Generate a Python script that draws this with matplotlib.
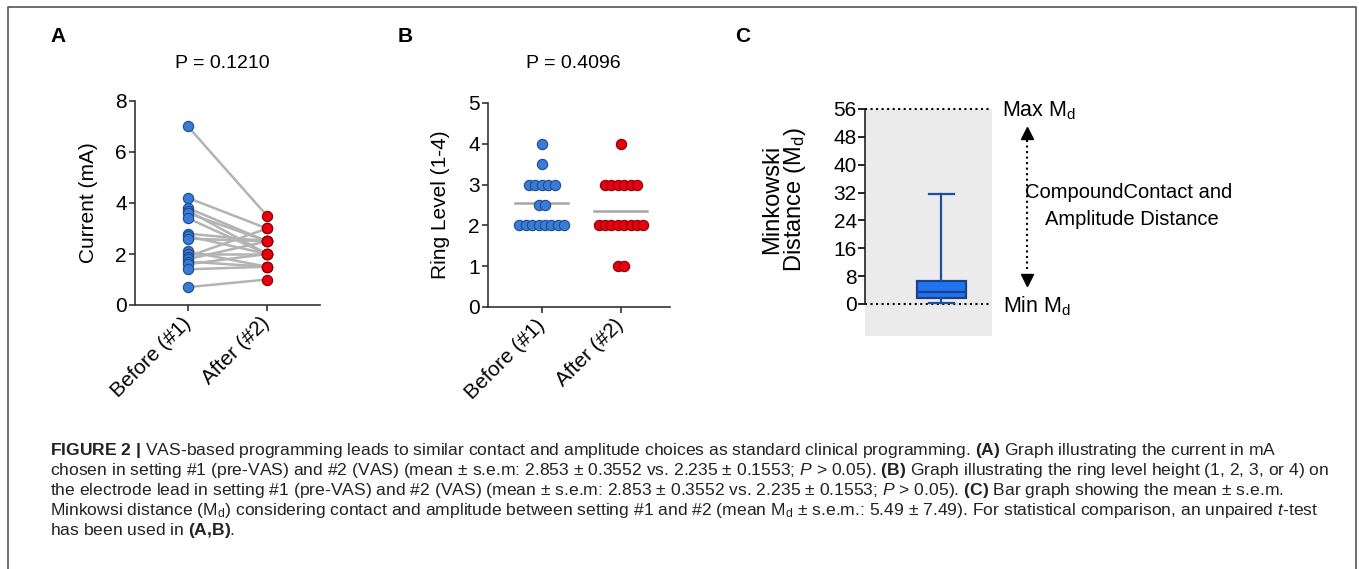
import numpy as np
import matplotlib
matplotlib.use("Agg")
import matplotlib.pyplot as plt
from matplotlib import font_manager

# panel A: current in mA, same patient before/after
groups = ["Before (#1)", "After (#2)"]
current_before = [7.0, 4.2, 3.8, 3.7, 3.6, 3.4, 2.8, 2.7, 2.6, 2.1, 2.0, 1.9, 1.8, 1.7, 1.6, 1.4, 0.7]
current_after = [3.5, 3.0, 2.5, 2.0, 2.5, 2.0, 2.5, 2.0, 2.5, 1.5, 2.0, 3.0, 2.5, 1.5, 2.0, 1.5, 1.0]
p_current = "P = 0.1210"

# panel B: ring level (1-4)
ring_before = [4, 3.5, 3, 3, 3, 3, 3, 2.5, 2.5, 2, 2, 2, 2, 2, 2, 2, 2]
ring_after = [4, 3, 3, 3, 3, 3, 3, 2, 2, 2, 2, 2, 2, 2, 2, 1, 1]
p_ring = "P = 0.4096"

# panel C: Minkowski distance box
md_stats = {"whislo": 0.2, "q1": 1.6, "med": 3.5, "q3": 6.7, "whishi": 31.5, "fliers": []}
md_min, md_max = 0, 56
md_ticks = list(range(0, 57, 8))

caption = [
    r"$\mathbf{FIGURE\ 2\ |}$ VAS-based programming leads to similar contact and amplitude choices as standard clinical programming. $\mathbf{(A)}$ Graph illustrating the current in mA",
    r"chosen in setting #1 (pre-VAS) and #2 (VAS) (mean ± s.e.m: 2.853 ± 0.3552 vs. 2.235 ± 0.1553; $\mathit{P}$ > 0.05). $\mathbf{(B)}$ Graph illustrating the ring level height (1, 2, 3, or 4) on",
    r"the electrode lead in setting #1 (pre-VAS) and #2 (VAS) (mean ± s.e.m: 2.853 ± 0.3552 vs. 2.235 ± 0.1553; $\mathit{P}$ > 0.05). $\mathbf{(C)}$ Bar graph showing the mean ± s.e.m.",
    r"Minkowsi distance (M$_\mathregular{d}$) considering contact and amplitude between setting #1 and #2 (mean M$_\mathregular{d}$ ± s.e.m.: 5.49 ± 7.49). For statistical comparison, an unpaired $\mathit{t}$-test",
    r"has been used in $\mathbf{(A{,}B)}$.",
]

names = {f.name for f in font_manager.fontManager.ttflist}
narrow = "Liberation Sans Narrow" if "Liberation Sans Narrow" in names else "Liberation Sans"

plt.rcParams["font.family"] = "Liberation Sans"
plt.rcParams["mathtext.fontset"] = "custom"
plt.rcParams["mathtext.rm"] = narrow
plt.rcParams["mathtext.it"] = narrow + ":italic"
plt.rcParams["mathtext.bf"] = narrow + ":bold"

BLUE, BLUE_E = "#3a7bd5", "#1d4a8f"
RED, RED_E = "#e60012", "#8a0000"
GRAY = "#b3b3b3"

W, H = 1359, 569
fig = plt.figure(figsize=(W / 100, H / 100), dpi=100)


def box(l, t, r, b):
    return [l / W, 1 - b / H, (r - l) / W, (b - t) / H]


# overlay in pixel coords for the loose text
ov = fig.add_axes([0, 0, 1, 1])
ov.set_xlim(0, W)
ov.set_ylim(H, 0)
ov.axis("off")
ov.patch.set_visible(False)


def prism_axes(ax):
    for s in ["top", "right"]:
        ax.spines[s].set_visible(False)
    for s in ["left", "bottom"]:
        ax.spines[s].set_linewidth(1.2)
        ax.spines[s].set_color("#333333")
    ax.tick_params(length=4, width=1.2, color="#333333", labelsize=15, pad=2)


def swarm(vals, step=0.081):
    vals = np.asarray(vals, float)
    off = np.zeros_like(vals)
    for v in np.unique(vals):
        idx = np.where(vals == v)[0]
        off[idx] = (np.arange(len(idx)) - (len(idx) - 1) / 2) * step
    return off


# ---- A
axA = fig.add_axes(box(135, 101, 320, 305))
prism_axes(axA)
for b, a in zip(current_before, current_after):
    axA.plot([0, 1], [b, a], color=GRAY, lw=1.8, zorder=1)
axA.scatter(np.zeros(len(current_before)), current_before, s=55, c=BLUE, edgecolors=BLUE_E, linewidths=0.8, zorder=3)
axA.scatter(np.ones(len(current_after)), current_after, s=55, c=RED, edgecolors=RED_E, linewidths=0.8, zorder=3)
axA.set_xlim(-0.67, 1.67)
axA.set_ylim(0, 8)
axA.set_yticks([0, 2, 4, 6, 8])
axA.set_xticks([0, 1])
axA.set_xticklabels(groups, rotation=45, ha="right", va="center", rotation_mode="anchor")
axA.tick_params(axis="x", pad=7)
axA.set_ylabel("Current (mA)", fontsize=15)
axA.yaxis.set_label_coords(-0.2, 0.5)

# ---- B
axB = fig.add_axes(box(488, 103, 670, 307))
prism_axes(axB)
for i, (vals, fc, ec) in enumerate([(ring_before, BLUE, BLUE_E), (ring_after, RED, RED_E)]):
    axB.scatter(i + swarm(vals), vals, s=55, c=fc, edgecolors=ec, linewidths=0.8, zorder=3)
    axB.plot([i - 0.335, i + 0.335], [np.mean(vals)] * 2, color="#a6a6a6", lw=1.8, zorder=2)
axB.set_xlim(-0.68, 1.62)
axB.set_ylim(0, 5)
axB.set_yticks(range(6))
axB.set_xticks([0, 1])
axB.set_xticklabels(groups, rotation=45, ha="right", va="center", rotation_mode="anchor")
axB.tick_params(axis="x", pad=7)
axB.set_ylabel("Ring Level (1-4)", fontsize=15)
axB.yaxis.set_label_coords(-0.209, 0.5)

# ---- C
axC = fig.add_axes(box(865, 109, 992, 336))
axC.set_facecolor("#ebebeb")
for s in ["top", "right", "bottom"]:
    axC.spines[s].set_visible(False)
axC.spines["left"].set_bounds(md_min, md_max)
axC.spines["left"].set_linewidth(1.2)
axC.spines["left"].set_color("#222222")
axC.set_ylim(-9.2, md_max)
axC.set_xlim(0, 1)
axC.set_xticks([])
axC.set_yticks(md_ticks)
axC.tick_params(axis="y", length=5, width=1.2, labelsize=15, pad=1)
for lab in axC.get_yticklabels():
    lab.set_family(narrow)
axC.axhline(md_max, color="black", ls=":", lw=1.5, clip_on=False)
axC.axhline(md_min, color="black", ls=":", lw=1.5, clip_on=False)
axC.bxp([md_stats], positions=[0.6], widths=0.386, capwidths=0.197, showfliers=False,
        patch_artist=True, manage_ticks=False,
        boxprops=dict(facecolor="#1f74f0", edgecolor="#1d3f8c", linewidth=1.6),
        medianprops=dict(color="#1d3f8c", linewidth=1.6),
        whiskerprops=dict(color="#1d4f9e", linewidth=1.6),
        capprops=dict(color="#1d4f9e", linewidth=1.6))
axC.set_ylabel("Minkowski\nDistance (M$_\\mathregular{d}$)", fontsize=17, family=narrow, linespacing=0.95)
axC.yaxis.set_label_coords(-0.449, 0.6)

# ---- loose text
ov.text(50, 36, "A", fontsize=15, fontweight="bold", va="center")
ov.text(398, 36, "B", fontsize=15, fontweight="bold", va="center")
ov.text(735, 36, "C", fontsize=15, fontweight="bold", va="center")
ov.text(222, 63, p_current, fontsize=14, ha="center", va="center")
ov.text(573, 63, p_ring, fontsize=14, ha="center", va="center")

ov.text(1002, 111, "Max M$_\\mathregular{d}$", fontsize=15.5, family=narrow, va="center")
ov.text(1003, 306, "Min M$_\\mathregular{d}$", fontsize=15.5, family=narrow, va="center")
ov.plot([1027, 1027], [140, 271], color="black", ls=":", lw=1.5)
ov.plot(1027, 133, marker="^", ms=9, color="black")
ov.plot(1027, 280, marker="v", ms=9, color="black")
ov.text(1129, 192, "CompoundContact and", fontsize=14.5, family=narrow, ha="center", va="center")
ov.text(1132, 219, "Amplitude Distance", fontsize=14.5, family=narrow, ha="center", va="center")

# frame around the figure
ov.plot([8, 8, 1356, 1356], [575, 7, 7, 575], color="#555555", lw=1.2)

# caption, sized so the long second line fills the width
cap_y = [455, 475, 495, 515, 535]
texts = [ov.text(50, y, s, fontsize=11, family=narrow, color="#222222", va="baseline")
         for s, y in zip(caption, cap_y)]
fig.canvas.draw()
w = texts[1].get_window_extent().width
for t in texts:
    t.set_fontsize(11 * 1278 / w)

fig.savefig("out.png", dpi=100)
